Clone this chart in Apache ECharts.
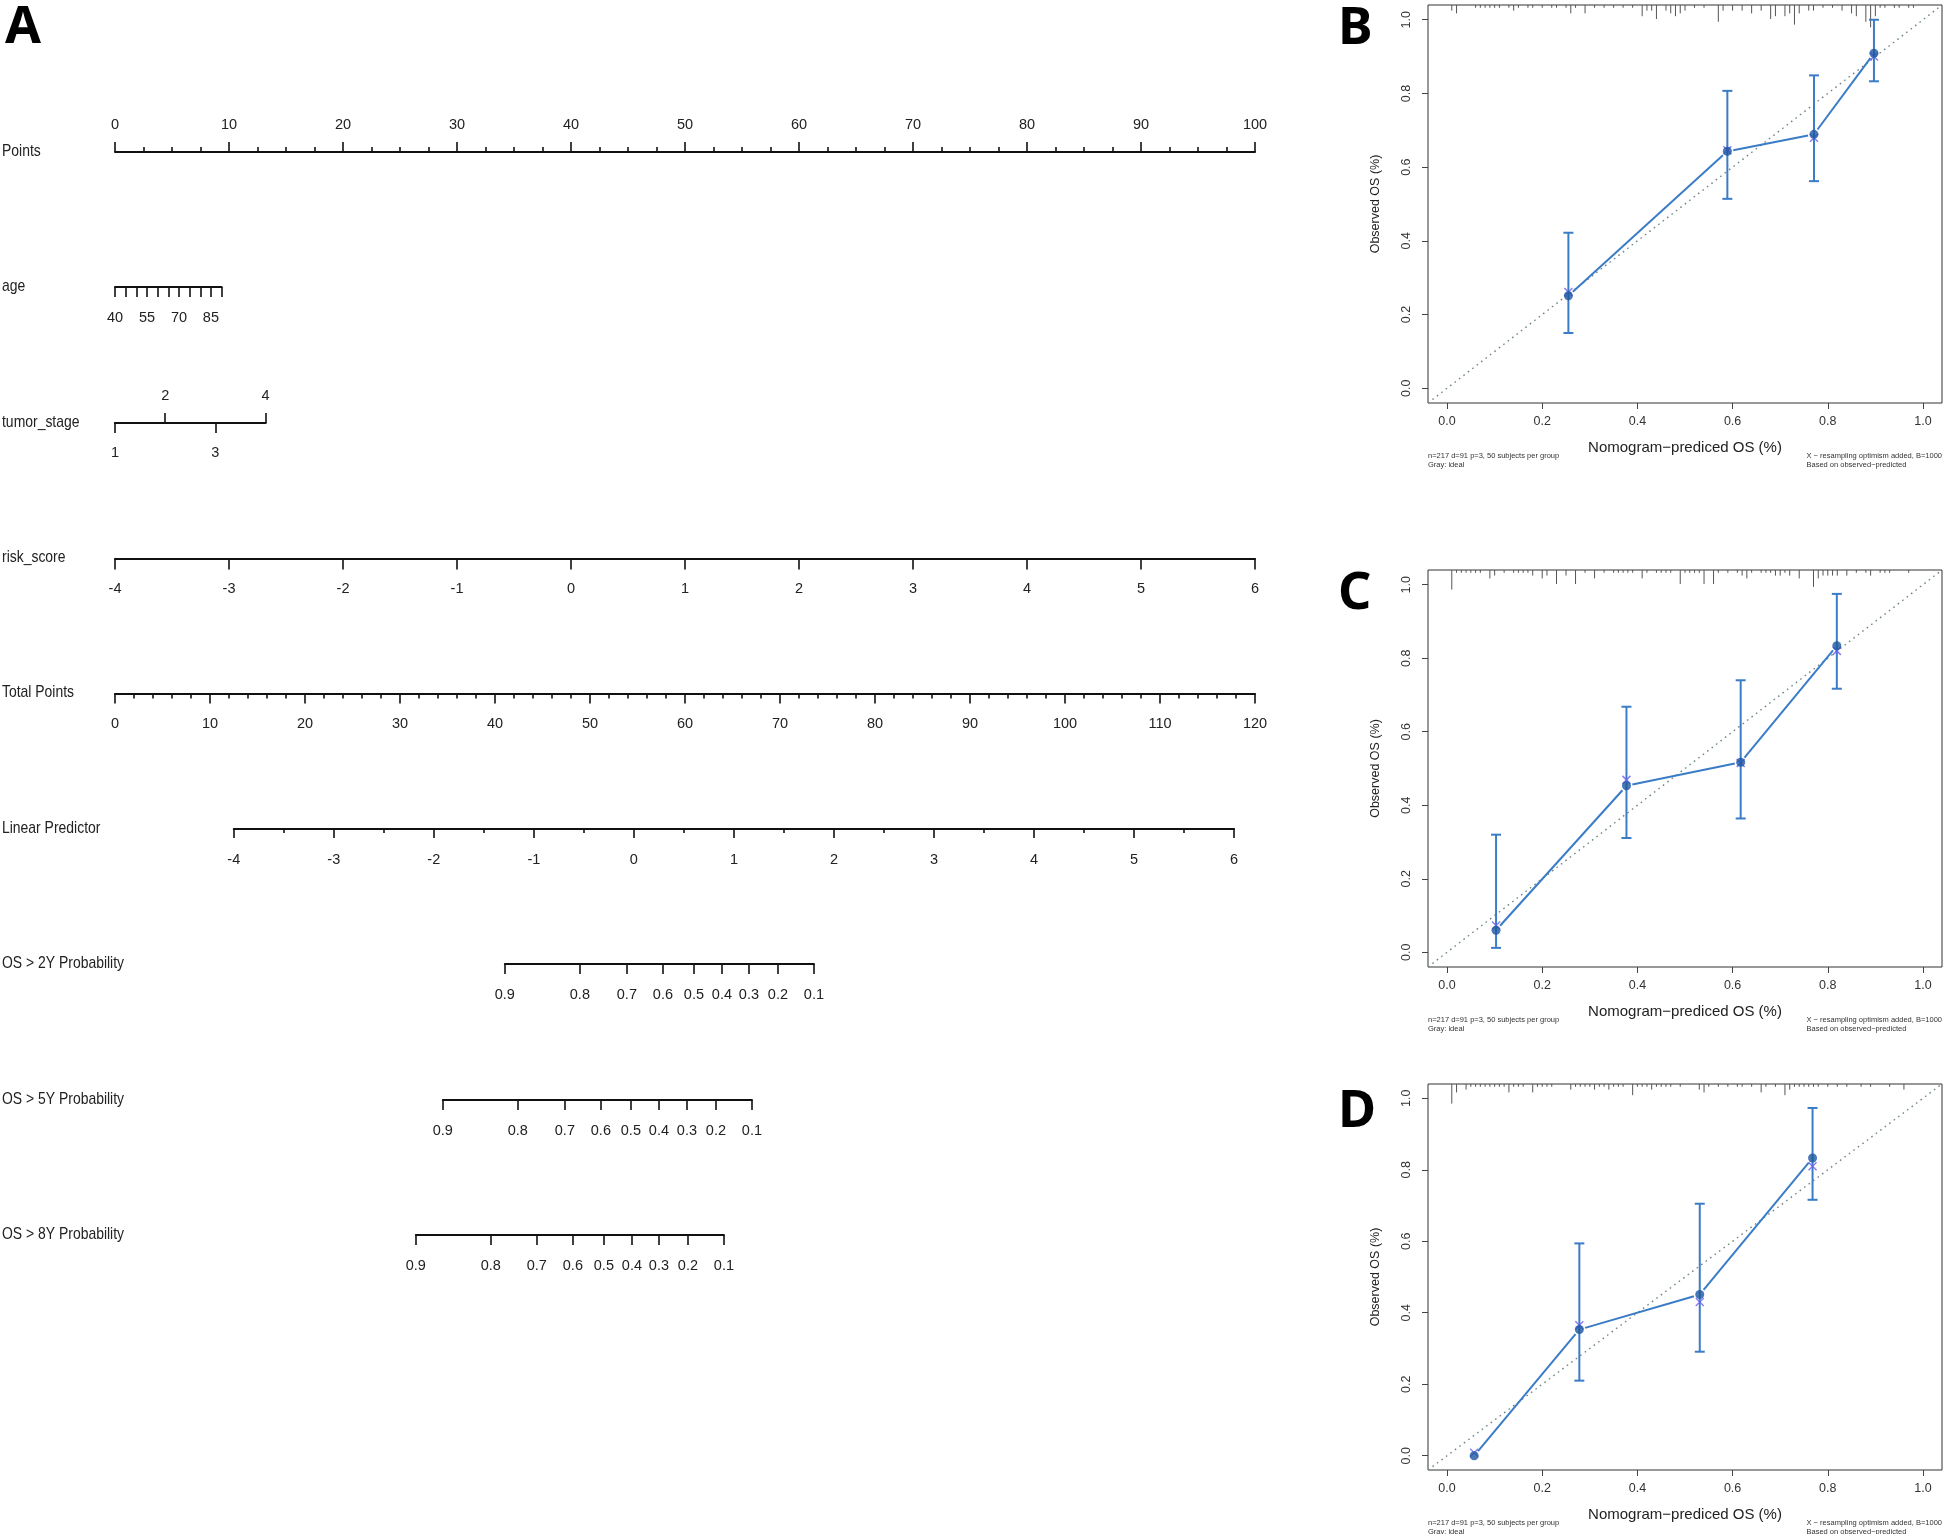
<!DOCTYPE html>
<html><head><meta charset="utf-8">
<script src="https://cdn.jsdelivr.net/npm/echarts@6/dist/echarts.min.js"></script>
<style>html,body{margin:0;padding:0;background:#fff}#c{width:1944px;height:1534px}</style>
</head><body><div id="c"></div>
<script>
// ================= DATA =================
// Panel A: nomogram
const pointsRange = [0, 100];
const ageTickValues = [40, 45, 50, 55, 60, 65, 70, 75, 80, 85, 90];
const ageLabelValues = [40, 55, 70, 85];
const agePoints = [0, 9.35];                 // points at age 40 and age 90
const stageValues = [1, 2, 3, 4];
const stagePoints = [0, 4.4, 8.8, 13.2];
const stageLabelsBelow = [1, 3];
const stageLabelsAbove = [2, 4];
const riskScoreRange = [-4, 6];              // spans points 0..100
const totalPointsRange = [0, 120];
const lpRange = [-4, 6];
const lpTotalPoints = [12.5, 117.8];         // total points at LP -4 and LP 6
const probLabels = ['0.9', '0.8', '0.7', '0.6', '0.5', '0.4', '0.3', '0.2', '0.1'];
const os2yLP = [-1.29, -0.54, -0.07, 0.29, 0.60, 0.88, 1.15, 1.44, 1.80];
const os5yLP = [-1.91, -1.16, -0.69, -0.33, -0.03, 0.25, 0.53, 0.82, 1.18];
const os8yLP = [-2.18, -1.43, -0.97, -0.61, -0.30, -0.02, 0.25, 0.54, 0.90];
const rowNames = ['Points', 'age', 'tumor_stage', 'risk_score', 'Total Points', 'Linear Predictor',
  'OS > 2Y Probability', 'OS > 5Y Probability', 'OS > 8Y Probability'];

// Panels B, C, D: calibration curves
const calTicks = [0, 0.2, 0.4, 0.6, 0.8, 1.0];
const bPred = [0.255, 0.589, 0.771, 0.897];
const bObs  = [0.251, 0.643, 0.689, 0.909];
const bLo   = [0.150, 0.514, 0.562, 0.833];
const bHi   = [0.422, 0.807, 0.849, 1.000];
const bCorr = [0.261, 0.646, 0.680, 0.900];
const cPred = [0.103, 0.377, 0.617, 0.819];
const cObs  = [0.060, 0.453, 0.517, 0.834];
const cLo   = [0.012, 0.311, 0.364, 0.717];
const cHi   = [0.320, 0.668, 0.740, 0.975];
const cCorr = [0.073, 0.469, 0.515, 0.820];
const dPred = [0.057, 0.278, 0.531, 0.768];
const dObs  = [0.000, 0.353, 0.451, 0.833];
const dLo   = [0.000, 0.210, 0.291, 0.716];
const dHi   = [0.000, 0.594, 0.705, 0.973];
const dCorr = [0.008, 0.365, 0.430, 0.810];
// top rugs: [predicted value, spike count]
const rugB = [[0.01,2],[0.02,3],[0.06,1],[0.07,1],[0.08,1],[0.09,1],[0.10,1],[0.11,1],[0.13,1],[0.14,2],[0.15,1],[0.17,1],[0.18,1],[0.20,1],[0.22,1],[0.23,1],[0.25,1],[0.26,3],[0.27,1],[0.29,3],[0.31,1],[0.33,1],[0.35,1],[0.37,1],[0.39,1],[0.41,4],[0.42,2],[0.43,2],[0.44,5],[0.46,2],[0.47,3],[0.48,4],[0.49,3],[0.50,2],[0.52,1],[0.54,1],[0.57,6],[0.58,2],[0.60,2],[0.62,2],[0.64,3],[0.66,2],[0.68,5],[0.69,4],[0.71,4],[0.72,3],[0.73,7],[0.74,3],[0.76,2],[0.77,2],[0.79,1],[0.81,1],[0.83,2],[0.85,3],[0.86,4],[0.88,6],[0.89,8],[0.90,4],[0.91,1],[0.92,1],[0.94,1],[0.95,1],[0.97,1],[0.98,1]];
const rugC = [[0.01,7],[0.02,1],[0.03,1],[0.04,1],[0.05,1],[0.06,1],[0.07,1],[0.09,3],[0.10,2],[0.12,1],[0.14,1],[0.15,1],[0.16,1],[0.17,1],[0.18,2],[0.20,3],[0.21,2],[0.23,5],[0.25,2],[0.27,5],[0.29,1],[0.31,3],[0.33,1],[0.35,1],[0.36,1],[0.37,1],[0.38,1],[0.39,1],[0.41,3],[0.42,1],[0.44,1],[0.45,1],[0.46,1],[0.47,1],[0.49,5],[0.50,1],[0.51,1],[0.52,1],[0.53,1],[0.54,5],[0.56,5],[0.57,1],[0.59,1],[0.61,1],[0.62,2],[0.63,3],[0.64,1],[0.66,1],[0.67,1],[0.68,1],[0.69,2],[0.70,2],[0.71,1],[0.72,2],[0.74,3],[0.77,6],[0.78,3],[0.79,2],[0.80,2],[0.81,2],[0.82,2],[0.84,2],[0.86,1],[0.88,1],[0.89,2],[0.91,1],[0.92,1],[0.93,1],[0.97,1]];
const rugD = [[0.01,7],[0.02,3],[0.04,2],[0.05,1],[0.06,1],[0.07,1],[0.08,1],[0.09,1],[0.10,1],[0.11,1],[0.12,1],[0.13,3],[0.14,1],[0.15,1],[0.16,1],[0.18,3],[0.19,1],[0.20,1],[0.21,1],[0.22,1],[0.26,2],[0.27,1],[0.28,1],[0.29,1],[0.30,1],[0.31,2],[0.32,1],[0.33,1],[0.34,2],[0.35,1],[0.36,1],[0.37,1],[0.39,4],[0.40,1],[0.41,1],[0.42,1],[0.43,2],[0.44,1],[0.45,1],[0.46,1],[0.47,1],[0.49,1],[0.53,2],[0.54,3],[0.55,1],[0.57,1],[0.59,1],[0.61,1],[0.62,1],[0.64,1],[0.66,3],[0.67,1],[0.69,1],[0.71,4],[0.72,2],[0.73,1],[0.74,1],[0.75,1],[0.76,1],[0.77,1],[0.78,1],[0.80,1],[0.82,1],[0.84,1],[0.87,1],[0.89,1],[0.93,1],[0.96,2]];

// ================= LAYOUT / STYLE =================
const SANS = "'Liberation Sans',Arial,Helvetica,sans-serif";
const AX_L = 115, AX_R = 1255;
const pointsPx = p => AX_L + (p - pointsRange[0]) / (pointsRange[1] - pointsRange[0]) * (AX_R - AX_L);
const totalPx = t => AX_L + (t - totalPointsRange[0]) / (totalPointsRange[1] - totalPointsRange[0]) * (AX_R - AX_L);
const lpPx = v => totalPx(lpTotalPoints[0] + (v - lpRange[0]) / (lpRange[1] - lpRange[0]) * (lpTotalPoints[1] - lpTotalPoints[0]));
const rowY = [152, 287, 423, 558.5, 693.5, 829, 964, 1100, 1235];

const grids = [], xAxes = [], yAxes = [], series = [], graphics = [];
const INK = '#111';

function addRowGrid(x0, x1, y) {
  grids.push({ left: x0, top: y, width: x1 - x0, height: 0 });
  const gi = grids.length - 1;
  yAxes.push({ gridIndex: gi, type: 'value', show: false, min: 0, max: 1 });
  return gi;
}
function rowAxis(gi, o) {
  const ax = {
    gridIndex: gi, type: 'value', position: o.position || 'bottom',
    min: o.min, max: o.max,
    axisLine: { show: true, onZero: false, lineStyle: { color: INK, width: 2 } },
    axisTick: { show: true, length: o.tickLen || 10, lineStyle: { color: INK, width: 1.6 } },
    minorTick: { show: !!o.minor, splitNumber: o.minor || 5, length: o.minorLen || 5, lineStyle: { color: INK, width: 1.6 } },
    axisLabel: { show: true, color: '#222', fontSize: 14.5, fontFamily: SANS, margin: o.margin || 23 },
    splitLine: { show: false }, minorSplitLine: { show: false }
  };
  if (o.interval !== undefined) ax.interval = o.interval;
  if (o.tickValues) ax.axisTick.customValues = o.tickValues;
  if (o.labelValues) ax.axisLabel.customValues = o.labelValues;
  if (o.formatter) ax.axisLabel.formatter = o.formatter;
  xAxes.push(ax);
}
function nearestIdx(arr, v) {
  let b = 0; for (let i = 1; i < arr.length; i++) if (Math.abs(arr[i] - v) < Math.abs(arr[b] - v)) b = i; return b;
}

// Points
let g = addRowGrid(pointsPx(0), pointsPx(100), rowY[0]);
rowAxis(g, { position: 'top', min: pointsRange[0], max: pointsRange[1], interval: 10, minor: 4, margin: 20 });
// age
g = addRowGrid(pointsPx(agePoints[0]), pointsPx(agePoints[1]), rowY[1]);
rowAxis(g, { min: ageTickValues[0], max: ageTickValues[ageTickValues.length - 1], interval: 5,
  tickValues: ageTickValues, labelValues: ageLabelValues });
// tumor_stage
g = addRowGrid(pointsPx(stagePoints[0]), pointsPx(stagePoints[3]), rowY[2]);
rowAxis(g, { min: stageValues[0], max: stageValues[3], tickValues: stageLabelsBelow, labelValues: stageLabelsBelow, margin: 22 });
rowAxis(g, { position: 'top', min: stageValues[0], max: stageValues[3], tickValues: stageLabelsAbove, labelValues: stageLabelsAbove, margin: 20 });
// risk_score
g = addRowGrid(pointsPx(0), pointsPx(100), rowY[3]);
rowAxis(g, { min: riskScoreRange[0], max: riskScoreRange[1], interval: 1, tickLen: 11 });
// Total Points
g = addRowGrid(totalPx(totalPointsRange[0]), totalPx(totalPointsRange[1]), rowY[4]);
rowAxis(g, { min: totalPointsRange[0], max: totalPointsRange[1], interval: 10, minor: 5 });
// Linear Predictor
g = addRowGrid(lpPx(lpRange[0]), lpPx(lpRange[1]), rowY[5]);
rowAxis(g, { min: lpRange[0], max: lpRange[1], interval: 1, minor: 2, tickLen: 9, minorLen: 4, margin: 23 });
// probability rows
[os2yLP, os5yLP, os8yLP].forEach((arr, k) => {
  const gi = addRowGrid(lpPx(arr[0]), lpPx(arr[arr.length - 1]), rowY[6 + k]);
  rowAxis(gi, { min: arr[0], max: arr[arr.length - 1], tickValues: arr, labelValues: arr,
    formatter: v => probLabels[nearestIdx(arr, v)] });
});

// row labels (condensed look)
rowNames.forEach((t, i) => graphics.push({ type: 'text', x: 2, y: rowY[i] - 1, scaleX: 0.82,
  style: { text: t, fontSize: 17, fontFamily: SANS, fill: '#222', verticalAlign: 'middle', align: 'left' } }));

// ================= calibration panels =================
const panels = [
  { top: 5, height: 398, pred: bPred, obs: bObs, lo: bLo, hi: bHi, corr: bCorr, rug: rugB, letter: 'B', letterY: 27 },
  { top: 570, height: 397, pred: cPred, obs: cObs, lo: cLo, hi: cHi, corr: cCorr, rug: rugC, letter: 'C', letterY: 592 },
  { top: 1084, height: 386, pred: dPred, obs: dObs, lo: dLo, hi: dHi, corr: dCorr, rug: rugD, letter: 'D', letterY: 1110 }
];
const CAL_L = 1428, CAL_W = 514, LIM = [-0.04, 1.04];
const BLUE = '#3b7cc6', DOT = '#1d56a0', XCOL = '#6c5ff0';
const RUG_UNIT = 2.8, GAP = 6;

panels.forEach(p => {
  grids.push({ left: CAL_L, top: p.top, width: CAL_W, height: p.height, show: true, borderColor: '#333', borderWidth: 1 });
  const gi = grids.length - 1;
  xAxes.push({ gridIndex: gi, type: 'value', min: LIM[0], max: LIM[1], position: 'bottom',
    name: 'Nomogram\u2212prediced OS (%)', nameLocation: 'middle', nameGap: 37,
    nameTextStyle: { fontSize: 15, color: '#222', fontFamily: SANS },
    axisLine: { show: false, onZero: false }, splitLine: { show: false },
    axisTick: { show: true, length: 6, customValues: calTicks, lineStyle: { color: '#444', width: 1 } },
    axisLabel: { customValues: calTicks, formatter: v => v.toFixed(1), fontSize: 12.5, color: '#333', margin: 12, fontFamily: SANS } });
  yAxes.push({ gridIndex: gi, type: 'value', min: LIM[0], max: LIM[1], position: 'left',
    name: 'Observed OS (%)', nameLocation: 'middle', nameGap: 46, nameRotate: 90,
    nameTextStyle: { fontSize: 12.5, color: '#222', fontFamily: SANS },
    axisLine: { show: false, onZero: false }, splitLine: { show: false },
    axisTick: { show: true, length: 6, customValues: calTicks, lineStyle: { color: '#444', width: 1 } },
    axisLabel: { customValues: calTicks, formatter: v => v.toFixed(1), rotate: 90, fontSize: 12.5, color: '#333', margin: 15, fontFamily: SANS } });
  const ax = { xAxisIndex: xAxes.length - 1, yAxisIndex: yAxes.length - 1 };
  // ideal line
  series.push(Object.assign({ type: 'line', data: [[LIM[0], LIM[0]], [LIM[1], LIM[1]]], showSymbol: false, silent: true, z: 1,
    lineStyle: { color: '#6f8886', width: 1.4, type: [1.6, 4] } }, ax));
  // rug
  series.push(Object.assign({ type: 'custom', data: p.rug, silent: true, z: 2,
    renderItem: (params, api) => {
      const c = api.coord([api.value(0), LIM[1]]);
      return { type: 'line', shape: { x1: c[0], y1: c[1], x2: c[0], y2: c[1] + api.value(1) * RUG_UNIT },
        style: { stroke: '#555', lineWidth: 1 } };
    } }, ax));
  // connecting line with gaps (R type "b")
  series.push(Object.assign({ type: 'custom', data: p.pred.map((v, i) => [v, p.obs[i]]), silent: true, z: 3,
    renderItem: (params, api) => {
      const i = params.dataIndex;
      if (i >= p.pred.length - 1) return null;
      const a = api.coord([p.pred[i], p.obs[i]]), b = api.coord([p.pred[i + 1], p.obs[i + 1]]);
      const dx = b[0] - a[0], dy = b[1] - a[1], L = Math.hypot(dx, dy), ux = dx / L, uy = dy / L;
      return { type: 'line', shape: { x1: a[0] + ux * GAP, y1: a[1] + uy * GAP, x2: b[0] - ux * GAP, y2: b[1] - uy * GAP },
        style: { stroke: BLUE, lineWidth: 2 } };
    } }, ax));
  // error bars
  series.push(Object.assign({ type: 'custom', data: p.pred.map((v, i) => [v, p.lo[i], p.hi[i]]), silent: true, z: 4,
    renderItem: (params, api) => {
      const x = api.value(0), lo = api.value(1), hi = api.value(2);
      if (hi - lo < 1e-6) return null;
      const a = api.coord([x, lo]), b = api.coord([x, hi]), w = 5;
      const st = { stroke: BLUE, lineWidth: 2 };
      return { type: 'group', children: [
        { type: 'line', shape: { x1: a[0], y1: a[1], x2: b[0], y2: b[1] }, style: st },
        { type: 'line', shape: { x1: a[0] - w, y1: a[1], x2: a[0] + w, y2: a[1] }, style: st },
        { type: 'line', shape: { x1: b[0] - w, y1: b[1], x2: b[0] + w, y2: b[1] }, style: st } ] };
    } }, ax));
  // bias-corrected (x marks)
  series.push(Object.assign({ type: 'scatter', data: p.pred.map((v, i) => [v, p.corr[i]]), silent: true, z: 5,
    symbol: 'path://M0,0L10,10M10,0L0,10', symbolSize: 8,
    itemStyle: { color: 'rgba(0,0,0,0)', borderColor: XCOL, borderWidth: 1.5 } }, ax));
  // observed points
  series.push(Object.assign({ type: 'scatter', data: p.pred.map((v, i) => [v, p.obs[i]]), silent: true, z: 6,
    symbol: 'circle', symbolSize: 9, itemStyle: { color: DOT } }, ax));

  // footnotes
  const fy = p.top + p.height + 49;
  graphics.push({ type: 'text', left: CAL_L, top: fy,
    style: { text: 'n=217 d=91 p=3, 50 subjects per group\nGray: ideal', fontSize: 7.5, lineHeight: 8.5, fontFamily: SANS, fill: '#333' } });
  graphics.push({ type: 'text', right: 1944 - (CAL_L + CAL_W), top: fy,
    style: { text: 'X \u2212 resampling optimism added, B=1000\nBased on observed\u2212predicted', fontSize: 7.5, lineHeight: 8.5, fontFamily: SANS, fill: '#333', align: 'right' } });
  // panel letter
  graphics.push({ type: 'text', left: 1338, top: p.letterY - 24,
    style: { text: p.letter, fontSize: 52, fontWeight: 'bold', fontFamily: "'Noto Sans',sans-serif", fill: '#000' } });
});
graphics.push({ type: 'text', left: 5, top: 23.5 - 21,
  style: { text: 'A', fontSize: 52, fontWeight: 'bold', fontFamily: "'Noto Sans',sans-serif", fill: '#000' } });

const chart = echarts.init(document.getElementById('c'), null, { renderer: 'canvas' });
chart.setOption({
  backgroundColor: '#fff', animation: false,
  grid: grids, xAxis: xAxes, yAxis: yAxes, series: series, graphic: graphics
});
</script></body></html>
